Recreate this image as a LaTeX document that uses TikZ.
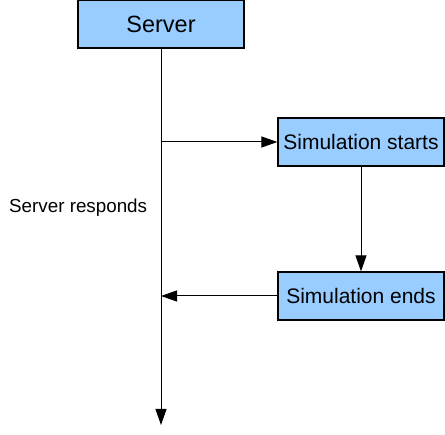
\documentclass[tikz,border=0pt]{standalone}
\usepackage{fontspec}
\setmainfont{Liberation Sans}
\usetikzlibrary{arrows.meta}
\definecolor{boxblue}{HTML}{99CCFF}
\begin{document}
\begin{tikzpicture}[x=1pt,y=-1pt,
  boxnode/.style={draw=black, line width=1.2pt, fill=boxblue, minimum width=166pt, minimum height=48pt, inner sep=0pt, anchor=center},
  conn/.style={line width=1pt, -{Triangle[length=16pt,width=11pt]}}]
\useasboundingbox (0,0) rectangle (445,435);
\node[boxnode, font=\fontsize{23.5}{26}\selectfont] (server) at (161,24) {Server};
\node[boxnode, font=\fontsize{21}{24}\selectfont] (sims) at (361,142) {Simulation starts};
\node[boxnode, font=\fontsize{21}{24}\selectfont] (sime) at (361,296) {Simulation ends};
\node[anchor=west, inner sep=0pt, font=\fontsize{18.8}{22}\selectfont] (resp) at (9,208) {Server responds};
\coordinate (branch) at (161,142);
\coordinate (join) at (161,296);
\coordinate (lineend) at (161,425);
\draw[conn] (server.south) -- (lineend);
\draw[conn] (branch) -- (sims.west);
\draw[conn] (sims.south) -- (sime.north);
\draw[conn] (sime.west) -- (join);
\end{tikzpicture}
\end{document}
